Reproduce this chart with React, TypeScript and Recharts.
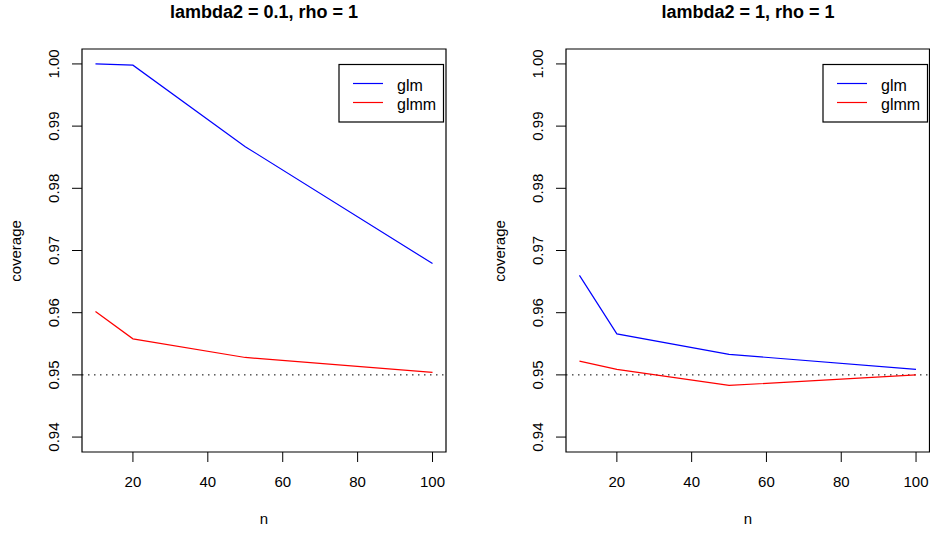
import { LineChart, Line, XAxis, YAxis, ReferenceLine, ReferenceArea } from "recharts";

const nValues = [10, 20, 50, 100];
const glmLeft = [1.0, 0.9998, 0.9867, 0.9679];
const glmmLeft = [0.9602, 0.9558, 0.9528, 0.9504];
const glmRight = [0.966, 0.9566, 0.9533, 0.9509];
const glmmRight = [0.9522, 0.9509, 0.9483, 0.95];

const xTicks = [20, 40, 60, 80, 100];
const yTicks = [0.94, 0.95, 0.96, 0.97, 0.98, 0.99, 1.0];
const titles = ["lambda2 = 0.1, rho = 1", "lambda2 = 1, rho = 1"];
const seriesNames = ["glm", "glmm"];
const seriesColors = ["#0000ff", "#ff0000"];

const X_DOMAIN: [number, number] = [6.4, 103.6];
const Y_DOMAIN: [number, number] = [0.9376, 1.0024];
const FONT = "'Liberation Sans', Arial, Helvetica, sans-serif";

const toRows = (a: number[], b: number[]) =>
  nValues.map((n, i) => ({ n, glm: a[i], glmm: b[i] }));

const panels = [
  { rows: toRows(glmLeft, glmmLeft), left: 0, yAxisWidth: 82, right: 19 },
  { rows: toRows(glmRight, glmmRight), left: 465, yAxisWidth: 101, right: 0.5 },
];

const YTick = (props: any) => {
  const { x, y, payload } = props;
  const cx = x - 16;
  return (
    <text
      x={cx}
      y={y}
      dy="0.36em"
      textAnchor="middle"
      transform={`rotate(-90, ${cx}, ${y})`}
      fill="#000"
      fontSize={15}
      fontFamily={FONT}
    >
      {Number(payload.value).toFixed(2)}
    </text>
  );
};

function Panel({ rows, left, yAxisWidth, right }: (typeof panels)[number]) {
  return (
    <div style={{ position: "absolute", left, top: 0 }}>
      <LineChart
        width={465}
        height={533}
        data={rows}
        margin={{ top: 49, right, bottom: 0, left: 0 }}
      >
        <XAxis
          dataKey="n"
          type="number"
          domain={X_DOMAIN}
          allowDataOverflow
          ticks={xTicks}
          height={81}
          axisLine={false}
          tickSize={10}
          tickMargin={14}
          tickLine={{ stroke: "#000" }}
          tick={{ fill: "#000", fontSize: 15, fontFamily: FONT }}
        />
        <YAxis
          type="number"
          domain={Y_DOMAIN}
          allowDataOverflow
          ticks={yTicks}
          width={yAxisWidth}
          axisLine={false}
          tickSize={10}
          tickMargin={2}
          tickLine={{ stroke: "#000" }}
          tick={<YTick />}
        />
        <ReferenceLine y={0.95} stroke="#000" strokeDasharray="1.5 4.5" strokeWidth={1} />
        <Line
          dataKey="glm"
          stroke={seriesColors[0]}
          strokeWidth={1.2}
          dot={false}
          type="linear"
          isAnimationActive={false}
        />
        <Line
          dataKey="glmm"
          stroke={seriesColors[1]}
          strokeWidth={1.2}
          dot={false}
          type="linear"
          isAnimationActive={false}
        />
        <ReferenceArea
          x1={X_DOMAIN[0]}
          x2={X_DOMAIN[1]}
          y1={Y_DOMAIN[0]}
          y2={Y_DOMAIN[1]}
          fill="none"
          stroke="#000"
          strokeWidth={1.2}
        />
      </LineChart>
    </div>
  );
}

export default function App() {
  // plot box: left panel x 82..446, right panel x 566..930, y 49..452
  const centers = [264, 748];
  const boxLefts = [82, 566];
  const legendLefts = [339, 823];
  return (
    <div
      style={{
        position: "absolute",
        left: 0,
        top: 0,
        width: 930,
        height: 533,
        background: "#fff",
        overflow: "hidden",
      }}
    >
      {panels.map((p, i) => (
        <Panel key={i} {...p} />
      ))}
      <svg
        width={930}
        height={533}
        style={{ position: "absolute", left: 0, top: 0, pointerEvents: "none" }}
        fontFamily={FONT}
      >
        {titles.map((t, i) => (
          <text key={t} x={centers[i]} y={18} textAnchor="middle" fontWeight="bold" fontSize={18}>
            {t}
          </text>
        ))}
        {centers.map((c, i) => (
          <text key={"n" + i} x={c} y={524} textAnchor="middle" fontSize={15}>
            n
          </text>
        ))}
        {boxLefts.map((b, i) => {
          const x = b - 61.5;
          return (
            <text
              key={"cov" + i}
              x={x}
              y={251}
              textAnchor="middle"
              transform={`rotate(-90, ${x}, ${251})`}
              fontSize={15}
            >
              coverage
            </text>
          );
        })}
        {legendLefts.map((lx, i) => (
          <g key={"leg" + i}>
            <rect x={lx} y={64.5} width={104.5} height={57.5} fill="#fff" stroke="#000" strokeWidth={1.2} />
            {seriesNames.map((name, j) => {
              const ly = 83.5 + j * 19;
              return (
                <g key={name}>
                  <line x1={lx + 14} x2={lx + 44} y1={ly} y2={ly} stroke={seriesColors[j]} strokeWidth={1.2} />
                  <text x={lx + 58} y={ly + 7.5} fontSize={16}>
                    {name}
                  </text>
                </g>
              );
            })}
          </g>
        ))}
      </svg>
    </div>
  );
}
